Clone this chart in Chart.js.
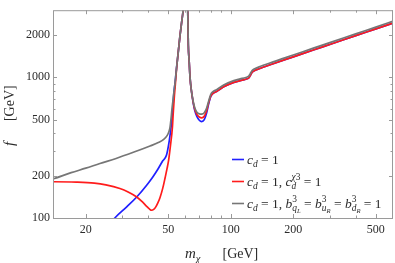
<!DOCTYPE html>
<html>
<head>
<meta charset="utf-8">
<script src="https://cdn.jsdelivr.net/npm/chart.js@4.4.0/dist/chart.umd.min.js"></script>
<style>
  html, body { margin: 0; padding: 0; background: #fff; }
</style>
</head>
<body>
<canvas id="chart" width="395" height="263"></canvas>
<script>
// tick labels
const xTicks = [20, 50, 100, 200, 500];
const yTicks = [100, 200, 500, 1000, 2000];

// c_d = 1
const blueMass = [27, 27.6, 31.5, 35.2, 39.3, 42, 44.5, 47, 49, 50.3, 51.3, 52, 52.6, 53.2, 53.9, 54.8, 55.6, 56.8, 58, 59, 60, 61, 62, 62.4, 63, 63.6, 64.6, 66, 67.1, 68.6, 70.5, 72.4, 74.5, 76.5, 78, 80, 82, 85.4, 92.4, 103.4, 111, 118, 122, 124, 126, 129, 136, 160, 200, 250, 300, 400, 500, 610];
const blueF = [96, 100, 120, 141, 171, 195, 222, 255, 280, 340, 420, 500, 620, 780, 919, 1178, 1432, 1933, 2487, 3145, 6000, 6000, 3000, 1700, 1300, 1000, 800, 648, 578, 528, 495, 485, 500, 560, 638, 728, 768, 792, 856, 920, 947, 969, 989, 1028, 1073, 1107, 1147, 1250, 1398, 1565, 1713, 1978, 2210, 2441];

// c_d = 1, c_d^chi3 = 1
const redMass = [13.5, 14, 18, 22, 25, 29.2, 32, 35.2, 37.5, 39.3, 40.5, 41.5, 42.5, 43.5, 44.5, 45.6, 47, 48.3, 49.3, 50.2, 51.3, 52.3, 52.8, 53.4, 54, 54.8, 55.6, 56.8, 58, 59, 60, 61, 62, 62.4, 63, 63.6, 64.6, 66, 67.1, 68.6, 70.5, 72.4, 74.5, 76.5, 78, 80, 82, 85.4, 92.4, 103.4, 111, 118, 122, 124, 126, 129, 136, 160, 200, 250, 300, 400, 500, 610];
const redF = [181, 181, 180, 177, 172, 162, 153, 141, 130, 121, 116, 113.5, 115, 120, 128, 140, 163, 195, 225, 260, 336, 440, 560, 720, 880, 1160, 1432, 1933, 2487, 3145, 6000, 6000, 3000, 1700, 1300, 1000, 800, 655, 590, 545, 522, 515, 528, 580, 650, 735, 768, 792, 856, 920, 947, 969, 989, 1028, 1073, 1107, 1147, 1250, 1398, 1565, 1713, 1978, 2210, 2441];

// c_d = 1, b^3 = 1
const grayMass = [13.5, 14, 17, 20, 23.4, 28, 33.9, 40.8, 45, 47.5, 49.3, 50.3, 50.9, 51.5, 52, 52.6, 53.2, 53.9, 54.8, 55.6, 56.8, 58, 59, 60, 61, 62, 62.4, 63, 63.6, 64.6, 66, 67.1, 68.6, 70.5, 72.4, 74.5, 76.5, 78, 80, 82, 85.4, 92.4, 103.4, 111, 118, 122, 124, 126, 129, 136, 160, 200, 250, 300, 400, 500, 610];
const grayF = [187, 190, 210, 226, 244, 265, 293, 325, 345, 362, 385, 410, 438, 506, 588, 681, 792, 919, 1178, 1432, 1933, 2487, 3145, 6000, 6000, 3000, 1700, 1300, 1000, 800, 665, 605, 565, 550, 548, 560, 605, 668, 755, 791, 816, 882, 948, 975, 998, 1019, 1059, 1105, 1140, 1181, 1288, 1440, 1612, 1764, 2037, 2276, 2514];

// legend labels (rich text: t = text, i = italic, sub/sup = scripts)
const legendLabels = [
  [{t: 'c', i: 1}, {sub: [{t: 'd', i: 1}]}, {t: ' = 1'}],
  [{t: 'c', i: 1}, {sub: [{t: 'd', i: 1}]}, {t: ' = 1, '}, {t: 'c', i: 1}, {sub: [{t: 'd', i: 1}], sup: [{t: 'χ', i: 1}, {t: '3'}]}, {t: ' = 1'}],
  [{t: 'c', i: 1}, {sub: [{t: 'd', i: 1}]}, {t: ' = 1, '},
   {t: 'b', i: 1}, {sub: [{t: 'q', i: 1}, {sub: [{t: 'L', i: 1}]}], sup: [{t: '3'}]}, {t: ' = '},
   {t: 'b', i: 1}, {sub: [{t: 'u', i: 1}, {sub: [{t: 'R', i: 1}]}], sup: [{t: '3'}]}, {t: ' = '},
   {t: 'b', i: 1}, {sub: [{t: 'd', i: 1}, {sub: [{t: 'R', i: 1}]}], sup: [{t: '3'}]}, {t: ' = 1'}]
];

const serif = '"Liberation Serif", "DejaVu Serif", serif';
const textColor = '#2b2b2b';
const frameColor = '#9a9a9a';

function toPoints(xs, ys) {
  return xs.map((x, i) => ({x: x, y: ys[i]}));
}

function drawRich(ctx, items, x, y, size) {
  items.forEach(item => {
    if (item.t !== undefined) {
      ctx.font = (item.i ? 'italic ' : '') + size + 'px ' + serif;
      ctx.fillText(item.t, x, y);
      x += ctx.measureText(item.t).width;
    } else {
      const s2 = size * 0.7;
      let w1 = 0, w2 = 0;
      if (item.sub) w1 = drawRich(ctx, item.sub, x, y + size * 0.25, s2) - x;
      if (item.sup) w2 = drawRich(ctx, item.sup, x, y - size * 0.4, s2) - x;
      x += Math.max(w1, w2);
    }
  });
  return x;
}

const decorPlugin = {
  id: 'decor',
  afterDraw(chart) {
    const ctx = chart.ctx;
    const a = chart.chartArea;
    const xs = chart.scales.x, ys = chart.scales.y;
    ctx.save();

    // frame
    ctx.strokeStyle = frameColor;
    ctx.lineWidth = 1;
    ctx.strokeRect(a.left + 0.5, a.top + 0.5, a.right - a.left - 1, a.bottom - a.top);

    // inward ticks, major + minor
    ctx.beginPath();
    [1, 10, 100, 1000].forEach(d => {
      for (let k = 1; k <= 9; k++) {
        const v = k * d;
        const major = xTicks.includes(v);
        if (v > xs.min && v < xs.max) {
          const px = Math.round(xs.getPixelForValue(v)) + 0.5;
          const len = major ? 4 : 2.5;
          ctx.moveTo(px, a.bottom); ctx.lineTo(px, a.bottom - len);
          ctx.moveTo(px, a.top); ctx.lineTo(px, a.top + len);
        }
        const ymajor = yTicks.includes(v);
        if (v > ys.min && v < ys.max) {
          const py = Math.round(ys.getPixelForValue(v)) + 0.5;
          const len = ymajor ? 4 : 2.5;
          ctx.moveTo(a.left, py); ctx.lineTo(a.left + len, py);
          ctx.moveTo(a.right, py); ctx.lineTo(a.right - len, py);
        }
      }
    });
    ctx.stroke();

    // axis titles
    ctx.fillStyle = textColor;
    ctx.textBaseline = 'alphabetic';
    ctx.textAlign = 'left';
    const cx = (a.left + a.right) / 2;
    drawRich(ctx, [{t: 'm', i: 1}, {sub: [{t: 'χ', i: 1}]}], cx - 38, 258, 15);
    ctx.font = '14px ' + serif;
    ctx.fillText('[GeV]', cx - 0.5, 258);

    const cy = (a.top + a.bottom) / 2;
    ctx.save();
    ctx.translate(14, cy);
    ctx.rotate(-Math.PI / 2);
    drawRich(ctx, [{t: 'f', i: 1}], -32, 0, 15);
    ctx.font = '14px ' + serif;
    ctx.fillText('[GeV]', -7, 0);
    ctx.restore();

    // legend
    const rows = [159.5, 181.5, 203.5];
    chart.data.datasets.forEach((ds, i) => {
      const y = rows[i];
      ctx.strokeStyle = ds.borderColor;
      ctx.lineWidth = 1.6;
      ctx.beginPath();
      ctx.moveTo(232, y); ctx.lineTo(244, y);
      ctx.stroke();
      ctx.fillStyle = textColor;
      drawRich(ctx, legendLabels[i], 247, y + 4, 13.5);
    });

    ctx.restore();
  }
};

const lineStyle = {pointRadius: 0, borderWidth: 1.7, cubicInterpolationMode: 'monotone', fill: false, clip: 0};

new Chart(document.getElementById('chart'), {
  type: 'line',
  data: {
    datasets: [
      Object.assign({label: 'c_d = 1', data: toPoints(blueMass, blueF), borderColor: '#2020ff', order: 3}, lineStyle),
      Object.assign({label: 'c_d = 1, c_d^χ3 = 1', data: toPoints(redMass, redF), borderColor: '#ff1c1c', order: 2}, lineStyle),
      Object.assign({label: 'c_d = 1, b^3 = 1', data: toPoints(grayMass, grayF), borderColor: '#767676', order: 1}, lineStyle)
    ]
  },
  options: {
    responsive: false,
    animation: false,
    devicePixelRatio: 1,
    layout: {padding: {top: 8, right: 2, left: 0, bottom: 0}},
    plugins: {legend: {display: false}, tooltip: {enabled: false}},
    scales: {
      x: {
        type: 'logarithmic',
        min: 13.9,
        max: 605,
        afterBuildTicks: s => { s.ticks = xTicks.map(v => ({value: v})); },
        afterFit: s => { s.height = 45; },
        grid: {display: false, drawTicks: false},
        border: {display: false},
        ticks: {
          callback: v => String(v),
          font: {family: serif, size: 12},
          color: textColor,
          padding: 5,
          maxRotation: 0,
          autoSkip: false
        }
      },
      y: {
        type: 'logarithmic',
        min: 100,
        max: 3000,
        afterBuildTicks: s => { s.ticks = yTicks.map(v => ({value: v})); },
        afterFit: s => { s.width = 53; },
        grid: {display: false, drawTicks: false},
        border: {display: false},
        ticks: {
          callback: v => String(v),
          font: {family: serif, size: 12},
          color: textColor,
          padding: 3,
          autoSkip: false
        }
      }
    }
  },
  plugins: [decorPlugin]
});
</script>
</body>
</html>
